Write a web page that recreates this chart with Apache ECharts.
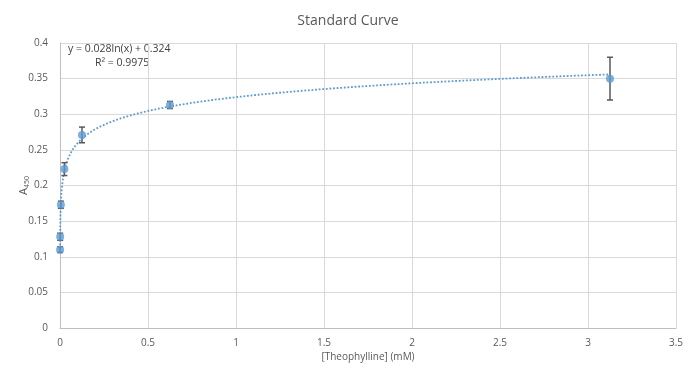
<!DOCTYPE html>
<html>
<head>
<meta charset="utf-8">
<script src="https://cdn.jsdelivr.net/npm/echarts@6/dist/echarts.min.js"></script>
<style>
  html, body { margin: 0; padding: 0; background: #fff; }
  #chart { width: 696px; height: 377px; }
</style>
</head>
<body>
<div id="chart"></div>
<script>
// concentrations (mM), absorbance and error bar half-widths
const conc = [0.0005, 0.001, 0.005, 0.025, 0.125, 0.625, 3.125];
const absorb = [0.110, 0.128, 0.173, 0.223, 0.271, 0.313, 0.350];
const errs = [0.004, 0.005, 0.005, 0.009, 0.011, 0.005, 0.030];

// log trendline as printed on the chart: y = 0.028ln(x) + 0.324
const fitA = 0.028;
const fitB = 0.324;

const textColor = '#595959';
const blue = '#5b9bd5';

// trendline sampled across the data range
const trend = [];
const lo = Math.log(conc[0]);
const hi = Math.log(conc[conc.length - 1]);
for (let i = 0; i <= 300; i++) {
  const x = Math.exp(lo + (hi - lo) * i / 300);
  trend.push([x, fitA * Math.log(x) + fitB]);
}

const points = conc.map((x, i) => [x, absorb[i]]);
const bars = conc.map((x, i) => [x, absorb[i] - errs[i], absorb[i] + errs[i]]);

const myChart = echarts.init(document.getElementById('chart'));
const option = {
  animation: false,
  textStyle: { fontFamily: 'Open Sans' },
  title: {
    text: 'Standard Curve',
    left: 'center',
    top: 9,
    textStyle: { color: textColor, fontSize: 14, fontWeight: 'normal', fontFamily: 'Open Sans' },
  },
  grid: { left: 60, right: 20, top: 43, bottom: 49 },
  xAxis: {
    type: 'value',
    min: 0,
    max: 3.5,
    interval: 0.5,
    name: '[Theophylline] (mM)',
    nameLocation: 'middle',
    nameGap: 24,
    nameMoveOverlap: false,
    nameTextStyle: { color: textColor, fontSize: 10 },
    axisLine: { show: true, lineStyle: { color: '#bfbfbf' } },
    axisTick: { show: false },
    axisLabel: { color: textColor, fontSize: 10, margin: 10 },
    splitLine: { lineStyle: { color: '#d9d9d9' } },
  },
  yAxis: {
    type: 'value',
    min: 0,
    max: 0.4,
    interval: 0.05,
    name: 'A{sub|450}',
    nameLocation: 'middle',
    nameRotate: 90,
    nameGap: 30,
    nameMoveOverlap: false,
    nameTextStyle: {
      color: textColor,
      fontSize: 11,
      rich: { sub: { fontSize: 7, color: textColor, verticalAlign: 'bottom', padding: [6, 0, 0, 0] } },
    },
    axisLine: { show: true, lineStyle: { color: '#bfbfbf' } },
    axisTick: { show: false },
    axisLabel: { color: textColor, fontSize: 10, margin: 12 },
    splitLine: { lineStyle: { color: '#d9d9d9' } },
  },
  graphic: [
    {
      type: 'text',
      left: 68,
      top: 44,
      style: { text: 'y = 0.028ln(x) + 0.324', fill: '#404040', fontSize: 10.5, fontFamily: 'Open Sans' },
    },
    {
      type: 'text',
      left: 95,
      top: 58,
      style: { text: 'R² = 0.9975', fill: '#404040', fontSize: 10.5, fontFamily: 'Open Sans' },
    },
  ],
  series: [
    {
      type: 'line',
      data: trend,
      showSymbol: false,
      lineStyle: { color: blue, width: 1.8, type: 'dotted' },
      z: 2,
    },
    {
      type: 'custom',
      data: bars,
      renderItem: (params, api) => {
        const x = api.value(0);
        const p1 = api.coord([x, api.value(1)]);
        const p2 = api.coord([x, api.value(2)]);
        const w = 3;
        const style = { stroke: '#595959', lineWidth: 1.5 };
        return {
          type: 'group',
          children: [
            { type: 'line', shape: { x1: p1[0], y1: p1[1], x2: p2[0], y2: p2[1] }, style },
            { type: 'line', shape: { x1: p1[0] - w, y1: p1[1], x2: p1[0] + w, y2: p1[1] }, style },
            { type: 'line', shape: { x1: p2[0] - w, y1: p2[1], x2: p2[0] + w, y2: p2[1] }, style },
          ],
        };
      },
      z: 3,
    },
    {
      type: 'scatter',
      data: points,
      symbolSize: 8,
      itemStyle: { color: blue },
      z: 4,
    },
  ],
};
myChart.setOption(option);

window.addEventListener('resize', () => {
  myChart.resize();
});
</script>
</body>
</html>
